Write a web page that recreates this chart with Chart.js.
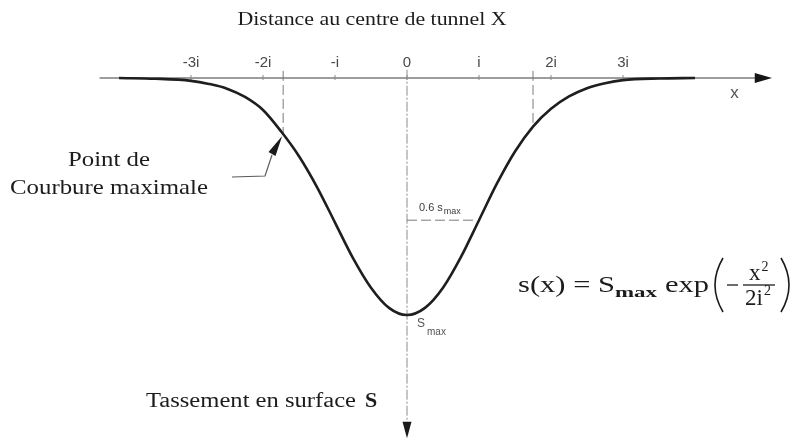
<!DOCTYPE html>
<html lang="fr">
<head>
<meta charset="utf-8">
<title>Cuvette de tassement</title>
<script src="https://cdn.jsdelivr.net/npm/chart.js@4.4.1/dist/chart.umd.min.js"></script>
<style>
  html, body { margin: 0; padding: 0; background: #ffffff; }
  #wrap { width: 795px; height: 442px; position: relative; }
  canvas { display: block; }
</style>
</head>
<body>
<div id="wrap"><canvas id="trough" width="795" height="442"></canvas></div>
<script>
// Distance from the tunnel centre line, in multiples of i
const distance = [-4, -3.5, -3, -2.75, -2.5, -2.25, -2, -1.75, -1.5, -1.25, -1, -0.75, -0.5, -0.25, 0,
                  0.25, 0.5, 0.75, 1, 1.25, 1.5, 1.75, 2, 2.25, 2.5, 2.75, 3, 3.5, 4];
// Surface settlement, as a fraction of Smax
const settlement = [0, 0.003, 0.012, 0.025, 0.045, 0.08, 0.135, 0.225, 0.33, 0.46, 0.61, 0.76, 0.885, 0.97, 1.0,
                    0.97, 0.885, 0.755, 0.6, 0.445, 0.31, 0.205, 0.13, 0.078, 0.043, 0.022, 0.009, 0.002, 0];
// Horizontal axis ticks
const tickValues = [-3, -2, -1, 0, 1, 2, 3];
const tickLabels = ['-3i', '-2i', '-i', '0', 'i', '2i', '3i'];
// Points of maximum curvature and the settlement there
const curvatureX = [-1.72, 1.75];
const curvatureS = [0.24, 0.205];
// Reference level 0.6 Smax and where the trough crosses it
const refLevel = 0.6;
const refLevelX = 0.97;

// pixel size of one i and of Smax inside the canvas
const PX_PER_I = 72, PX_PER_S = 237, ORIGIN_X = 407, ORIGIN_Y = 78;

const SERIF = '"Liberation Serif", "Times New Roman", serif';
const SANS = '"Liberation Sans", Arial, sans-serif';

function drawText(ctx, s, x, y, font, color, align, width) {
  ctx.save();
  ctx.font = font;
  ctx.fillStyle = color;
  ctx.textBaseline = 'alphabetic';
  const w = ctx.measureText(s).width;
  const sx = width ? width / w : 1;
  let left = x;
  if (align === 'center') left = x - (w * sx) / 2;
  else if (align === 'right') left = x - w * sx;
  ctx.translate(left, y);
  ctx.scale(sx, 1);
  ctx.fillText(s, 0, 0);
  ctx.restore();
  return w * sx;
}

function arrowHead(ctx, tipX, tipY, baseX, baseY, half) {
  const dx = tipX - baseX, dy = tipY - baseY;
  const len = Math.hypot(dx, dy);
  const nx = -dy / len, ny = dx / len;
  ctx.beginPath();
  ctx.moveTo(tipX, tipY);
  ctx.lineTo(baseX + nx * half, baseY + ny * half);
  ctx.lineTo(baseX - nx * half, baseY - ny * half);
  ctx.closePath();
  ctx.fill();
}

const axesPlugin = {
  id: 'troughAxes',
  beforeDatasetsDraw(chart) {
    const { ctx } = chart;
    const X = v => chart.scales.x.getPixelForValue(v);
    const Y = v => chart.scales.y.getPixelForValue(v);
    const y0 = Y(0), x0 = X(0);
    ctx.save();
    // horizontal axis with arrow
    ctx.strokeStyle = '#7d7d7d';
    ctx.lineWidth = 1.4;
    ctx.beginPath();
    ctx.moveTo(X(-4.27), y0);
    ctx.lineTo(X(4.85), y0);
    ctx.stroke();
    ctx.fillStyle = '#151515';
    arrowHead(ctx, X(5.07), y0, X(4.83), y0, 5);
    // tick marks
    ctx.lineWidth = 1;
    ctx.strokeStyle = '#8a8a8a';
    tickValues.forEach(v => {
      ctx.beginPath();
      ctx.moveTo(X(v), y0 - 3);
      ctx.lineTo(X(v), y0 + 2);
      ctx.stroke();
    });
    // vertical settlement axis with arrow
    ctx.strokeStyle = '#8c8c8c';
    ctx.lineWidth = 1;
    ctx.setLineDash([10, 2, 2, 2]);
    ctx.beginPath();
    ctx.moveTo(x0, Y(-0.035));
    ctx.lineTo(x0, Y(1.455));
    ctx.stroke();
    ctx.setLineDash([]);
    ctx.fillStyle = '#1a1a1a';
    arrowHead(ctx, x0, Y(1.52), x0, Y(1.45), 4.5);
    // tick labels
    tickValues.forEach((v, k) => {
      drawText(ctx, tickLabels[k], X(v), y0 - 11, '15px ' + SANS, '#4a4a4a', 'center');
    });
    // axis name
    drawText(ctx, 'x', X(4.55), y0 + 20, '17px ' + SANS, '#555555', 'center');
    ctx.restore();
  },
  afterDatasetsDraw(chart) {
    const { ctx } = chart;
    const X = v => chart.scales.x.getPixelForValue(v);
    const Y = v => chart.scales.y.getPixelForValue(v);
    ctx.save();

    // title of the horizontal axis
    drawText(ctx, 'Distance au centre de tunnel X', 372, 25, '19px ' + SERIF, '#1c1c1c', 'center', 269);

    // annotation of the maximum curvature point
    drawText(ctx, 'Point de', 109, 166, '21px ' + SERIF, '#1c1c1c', 'center', 82);
    drawText(ctx, 'Courbure maximale', 109, 194, '21px ' + SERIF, '#1c1c1c', 'center', 198);
    ctx.strokeStyle = '#5a5a5a';
    ctx.lineWidth = 1.2;
    ctx.beginPath();
    ctx.moveTo(232, 177);
    ctx.lineTo(265, 176);
    ctx.lineTo(272, 155);
    ctx.stroke();
    ctx.fillStyle = '#1a1a1a';
    arrowHead(ctx, X(curvatureX[0]) - 1, Y(curvatureS[0]) + 1, 272, 154, 4);

    // 0.6 Smax label
    const w06 = drawText(ctx, '0.6 s', 419, 211, '11px ' + SANS, '#3c3c3c', 'left');
    drawText(ctx, 'max', 419 + w06 + 1, 214, '9px ' + SANS, '#3c3c3c', 'left');

    // Smax label below the trough
    const wS = drawText(ctx, 'S', 417, 327, '12px ' + SANS, '#555555', 'left');
    drawText(ctx, 'max', 417 + wS + 2, 335, '10px ' + SANS, '#555555', 'left');

    // vertical axis name
    drawText(ctx, 'Tassement en surface', 356, 407, '20px ' + SERIF, '#1c1c1c', 'right', 210);
    drawText(ctx, 'S', 365, 407, 'bold 22px ' + SERIF, '#1c1c1c', 'left');

    // settlement law
    const B = 292, ink = '#1c1c1c';
    const F = '23px ' + SERIF;
    let cx = 518;
    cx += drawText(ctx, 's(x) = S', cx, B, F, ink, 'left', 97);
    cx += drawText(ctx, 'max', cx, B + 5, 'bold 15px ' + SERIF, ink, 'left', 42);
    cx += 8;
    cx += drawText(ctx, 'exp', cx, B, F, ink, 'left', 44);
    // left parenthesis
    ctx.strokeStyle = ink;
    ctx.lineWidth = 1.6;
    const pTop = B - 34, pBot = B + 20;
    let px = cx + 14;
    ctx.beginPath();
    ctx.moveTo(px, pTop);
    ctx.quadraticCurveTo(px - 16, (pTop + pBot) / 2, px, pBot);
    ctx.stroke();
    // minus sign
    ctx.lineWidth = 1.3;
    ctx.beginPath();
    ctx.moveTo(px + 4, B - 7);
    ctx.lineTo(px + 15, B - 7);
    ctx.stroke();
    // fraction x^2 / 2i^2
    const fx = px + 20, barY = B - 7;
    ctx.beginPath();
    ctx.moveTo(fx, barY);
    ctx.lineTo(fx + 32, barY);
    ctx.stroke();
    const wx = drawText(ctx, 'x', fx + 6, barY - 5, F, ink, 'left');
    drawText(ctx, '2', fx + 6 + wx + 1, barY - 14, '14px ' + SERIF, ink, 'left');
    const w2i = drawText(ctx, '2i', fx + 2, barY + 20, F, ink, 'left');
    drawText(ctx, '2', fx + 2 + w2i + 1, barY + 10, '14px ' + SERIF, ink, 'left');
    // right parenthesis
    px = fx + 38;
    ctx.lineWidth = 1.6;
    ctx.beginPath();
    ctx.moveTo(px, pTop);
    ctx.quadraticCurveTo(px + 16, (pTop + pBot) / 2, px, pBot);
    ctx.stroke();

    ctx.restore();
  }
};

const curvePoints = distance.map((x, k) => ({ x, y: settlement[k] }));
const guide = { showLine: true, borderColor: '#7a7a7a', borderWidth: 1, borderDash: [10, 4], pointRadius: 0, fill: false };

new Chart(document.getElementById('trough'), {
  type: 'scatter',
  data: {
    datasets: [
      { label: 'Cuvette de tassement', data: curvePoints, showLine: true, borderColor: '#1e1e1e', borderWidth: 2.6,
        pointRadius: 0, fill: false, cubicInterpolationMode: 'monotone' },
      Object.assign({ label: 'Courbure maximale (gauche)',
        data: [{ x: curvatureX[0], y: -0.03 }, { x: curvatureX[0], y: curvatureS[0] }] }, guide),
      Object.assign({ label: 'Courbure maximale (droite)',
        data: [{ x: curvatureX[1], y: -0.03 }, { x: curvatureX[1], y: curvatureS[1] }] }, guide),
      Object.assign({ label: '0.6 Smax',
        data: [{ x: 0, y: refLevel }, { x: refLevelX, y: refLevel }] }, guide)
    ]
  },
  options: {
    responsive: false,
    animation: false,
    devicePixelRatio: 1,
    layout: { padding: 0 },
    events: [],
    plugins: { legend: { display: false }, tooltip: { enabled: false }, title: { display: false } },
    scales: {
      x: { type: 'linear', display: false, min: -ORIGIN_X / PX_PER_I, max: (795 - ORIGIN_X) / PX_PER_I },
      y: { type: 'linear', display: false, reverse: true, min: -ORIGIN_Y / PX_PER_S, max: (442 - ORIGIN_Y) / PX_PER_S }
    }
  },
  plugins: [axesPlugin]
});
</script>
</body>
</html>
